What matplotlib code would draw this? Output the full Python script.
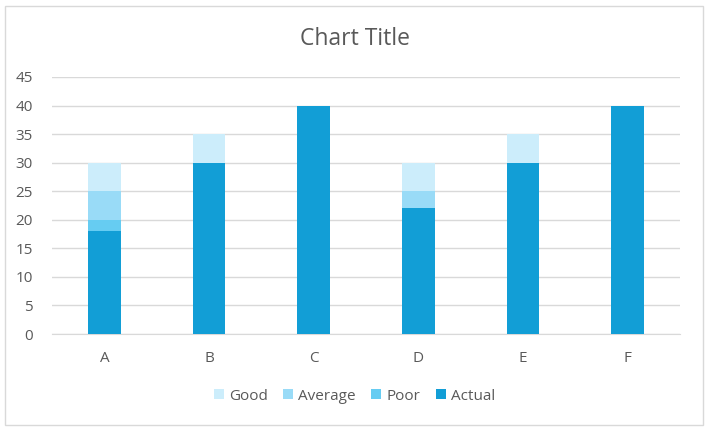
import numpy as np
import matplotlib.pyplot as plt
from matplotlib.patches import Rectangle

# data
categories = ['A', 'B', 'C', 'D', 'E', 'F']
actual = [18, 30, 40, 22, 30, 40]
poor = [2, 0, 0, 0, 0, 0]
average = [5, 0, 0, 3, 0, 0]
good = [5, 5, 0, 5, 5, 0]

colors = {'Actual': '#129ED6', 'Poor': '#66CCF2', 'Average': '#99DBF7', 'Good': '#CCEDFB'}

plt.rcParams['font.family'] = ['Open Sans', 'DejaVu Sans']

fig = plt.figure(figsize=(7.09, 4.30), dpi=100)
fig.patches.append(Rectangle((5/709, 5/430), 698/709, 419/430, transform=fig.transFigure,
                             fill=False, edgecolor='#D9D9D9', linewidth=1))
ax = fig.add_axes([52/709, 1-334/430, 628/709, 257/430])

x = np.arange(len(categories))
w = 0.315
bottom = np.zeros(len(categories))
series = [('Actual', actual), ('Poor', poor), ('Average', average), ('Good', good)]
handles = {}
for name, vals in series:
    b = ax.bar(x, vals, w, bottom=bottom, color=colors[name], label=name, zorder=3)
    handles[name] = b
    bottom = bottom + np.array(vals)

ax.set_xlim(-0.5, len(categories) - 0.5)
ax.set_ylim(0, 45)
ax.set_yticks(range(0, 46, 5))
ax.set_xticks(x)
ax.set_xticklabels(categories)
ax.grid(axis='y', color='#D9D9D9', linewidth=1, zorder=0)
for s in ['top', 'right', 'left']:
    ax.spines[s].set_visible(False)
ax.spines['bottom'].set_color('#D9D9D9')
ax.tick_params(axis='both', length=0, colors='#595959', labelsize=11)
ax.tick_params(axis='x', pad=12)
ax.tick_params(axis='y', pad=14)

fig.text(0.5, 1-39/430, 'Chart Title', ha='center', va='center', fontsize=16.5, color='#595959')

order = ['Good', 'Average', 'Poor', 'Actual']
fig.legend([handles[n] for n in order], order, loc='center', bbox_to_anchor=(0.5, 1-396/430),
           ncol=4, frameon=False, fontsize=11, labelcolor='#595959',
           handlelength=0.65, handleheight=0.65, handletextpad=0.35, columnspacing=1.0)

fig.savefig('out.png', dpi=100)
